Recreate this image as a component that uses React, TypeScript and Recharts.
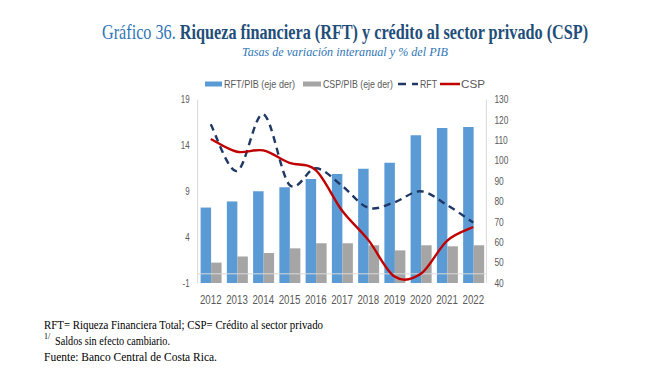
import React, { useLayoutEffect, useRef, useState } from 'react';
import { ComposedChart, Bar, Line, XAxis, YAxis, ReferenceLine } from 'recharts';

const years = ['2012', '2013', '2014', '2015', '2016', '2017', '2018', '2019', '2020', '2021', '2022'];
const rftPib = [77, 80, 85, 87, 91, 93.5, 96, 99, 112.5, 116, 116.5];
const cspPib = [50, 53, 54.7, 57, 59.5, 59.5, 58.5, 56, 58.5, 58, 58.5];
const rft = [16.3, 11.2, 17.4, 9.7, 11.5, 9.6, 7.2, 7.8, 9.0, 7.5, 5.6];
const csp = [14.7, 13.3, 13.45, 12.1, 11.3, 6.9, 3.7, -0.3, 0.0, 3.6, 5.1];
const leftTicks = [-1, 4, 9, 14, 19];
const rightTicks = [40, 50, 60, 70, 80, 90, 100, 110, 120, 130];

const data = years.map((y, i) => ({
  year: y,
  rftPib: rftPib[i],
  cspPib: cspPib[i],
  rft: rft[i],
  csp: csp[i],
}));

// suavizado tipo Excel (Catmull-Rom)
const smoothCurve = (context: any) => {
  let pts: number[][] = [];
  return {
    areaStart() {},
    areaEnd() {},
    lineStart() {
      pts = [];
    },
    point(x: number, y: number) {
      pts.push([+x, +y]);
    },
    lineEnd() {
      const n = pts.length;
      if (!n) return;
      context.moveTo(pts[0][0], pts[0][1]);
      for (let i = 0; i < n - 1; i++) {
        const p0 = pts[i > 0 ? i - 1 : i];
        const p1 = pts[i];
        const p2 = pts[i + 1];
        const p3 = pts[i + 2 < n ? i + 2 : i + 1];
        context.bezierCurveTo(
          p1[0] + (p2[0] - p0[0]) / 6,
          p1[1] + (p2[1] - p0[1]) / 6,
          p2[0] - (p3[0] - p1[0]) / 6,
          p2[1] - (p3[1] - p1[1]) / 6,
          p2[0],
          p2[1]
        );
      }
    },
  };
};

const SANS = 'Liberation Sans, Arial, sans-serif';
const SERIF = 'Liberation Serif, Times New Roman, serif';
const TICK = '#595959';

const XTick = (props: any) => {
  const { x, y, payload } = props;
  return (
    <g transform={`translate(${x},${y + 13}) scale(0.72,1)`}>
      <text textAnchor="middle" fontFamily={SANS} fontSize={13.5} fill={TICK}>
        {payload.value}
      </text>
    </g>
  );
};

const LeftTick = (props: any) => {
  const { x, y, payload } = props;
  return (
    <g transform={`translate(${x},${y}) scale(0.76,1)`}>
      <text textAnchor="end" dy="0.36em" fontFamily={SANS} fontSize={10.5} fill={TICK}>
        {payload.value}
      </text>
    </g>
  );
};

const RightTick = (props: any) => {
  const { x, y, payload } = props;
  return (
    <g transform={`translate(${x},${y}) scale(0.8,1)`}>
      <text textAnchor="start" dy="0.36em" fontFamily={SANS} fontSize={10.5} fill={TICK}>
        {payload.value}
      </text>
    </g>
  );
};

// título comprimido a un ancho fijo (escala medida en el navegador)
function Title({ x, y, width }: { x: number; y: number; width: number }) {
  const ref = useRef<SVGTextElement>(null);
  const [sx, setSx] = useState(0.75);
  useLayoutEffect(() => {
    if (ref.current) {
      const w = ref.current.getComputedTextLength();
      if (w > 0) setSx(width / w);
    }
  }, [width]);
  return (
    <g transform={`translate(${x},${y}) scale(${sx},1)`}>
      <text ref={ref} x={0} y={0} fontFamily={SERIF} fontSize={20}>
        <tspan fill="#2E75B6">Gráfico 36. </tspan>
        <tspan fill="#1F4E79" fontWeight="bold">
          Riqueza financiera (RFT) y crédito al sector privado (CSP)
        </tspan>
      </text>
    </g>
  );
}

export default function App() {
  return (
    <div style={{ position: 'absolute', left: 0, top: 0, width: 658, height: 371, background: '#fff' }}>
      <ComposedChart
        width={658}
        height={371}
        data={data}
        margin={{ top: 99.5, right: 131.6, left: 157.6, bottom: 58 }}
        barGap={0}
      >
        <XAxis dataKey="year" axisLine={false} tickLine={false} tick={<XTick />} interval={0} height={30} />
        <YAxis
          yAxisId="left"
          domain={[-1, 19]}
          ticks={leftTicks}
          interval={0}
          width={40}
          axisLine={{ stroke: '#D9D9D9' }}
          tickLine={false}
          tick={<LeftTick />}
        />
        <YAxis
          yAxisId="right"
          orientation="right"
          domain={[40, 130]}
          ticks={rightTicks}
          interval={0}
          width={40}
          axisLine={{ stroke: '#D9D9D9' }}
          tickLine={false}
          tick={<RightTick />}
        />
        <Bar yAxisId="right" dataKey="rftPib" fill="#5B9BD5" barSize={10.5} isAnimationActive={false} />
        <Bar yAxisId="right" dataKey="cspPib" fill="#A5A5A5" barSize={10.5} isAnimationActive={false} />
        <ReferenceLine yAxisId="left" y={0} stroke="#D9D9D9" strokeWidth={1} />
        <Line
          yAxisId="left"
          dataKey="rft"
          type={smoothCurve as any}
          stroke="#1F3864"
          strokeWidth={2.4}
          strokeDasharray="7 5"
          dot={false}
          activeDot={false}
          isAnimationActive={false}
        />
        <Line
          yAxisId="left"
          dataKey="csp"
          type={smoothCurve as any}
          stroke="#C00000"
          strokeWidth={2.4}
          dot={false}
          activeDot={false}
          isAnimationActive={false}
        />
      </ComposedChart>

      <svg
        width={658}
        height={371}
        style={{ position: 'absolute', left: 0, top: 0, pointerEvents: 'none' }}
      >
        <Title x={102} y={38.5} width={486} />
        <text
          x={242}
          y={55.5}
          fontFamily={SERIF}
          fontSize={13.5}
          fontStyle="italic"
          fill="#2E75B6"
          textLength={206}
          lengthAdjust="spacingAndGlyphs"
        >
          Tasas de variación interanual y % del PIB
        </text>

        {/* leyenda */}
        <rect x={205} y={81.5} width={17} height={5} fill="#5B9BD5" />
        <text x={224} y={88} fontFamily={SANS} fontSize={11.5} fill={TICK} textLength={71} lengthAdjust="spacingAndGlyphs">
          RFT/PIB (eje der)
        </text>
        <rect x={303} y={81.5} width={18} height={5} fill="#A5A5A5" />
        <text x={323} y={88} fontFamily={SANS} fontSize={11.5} fill={TICK} textLength={70} lengthAdjust="spacingAndGlyphs">
          CSP/PIB (eje der)
        </text>
        <line x1={398} y1={84} x2={406} y2={84} stroke="#1F3864" strokeWidth={2.5} />
        <line x1={412} y1={84} x2={418} y2={84} stroke="#1F3864" strokeWidth={2.5} />
        <text x={420} y={88} fontFamily={SANS} fontSize={11.5} fill={TICK} textLength={17} lengthAdjust="spacingAndGlyphs">
          RFT
        </text>
        <line x1={440} y1={84} x2={460} y2={84} stroke="#C00000" strokeWidth={2.5} />
        <text x={461} y={88} fontFamily={SANS} fontSize={11.5} fill={TICK} textLength={24} lengthAdjust="spacingAndGlyphs">
          CSP
        </text>

        {/* notas */}
        <text x={44} y={329} fontFamily={SERIF} fontSize={13} fill="#000" textLength={279} lengthAdjust="spacingAndGlyphs">
          RFT= Riqueza Financiera Total; CSP= Crédito al sector privado
        </text>
        <text x={44} y={339} fontFamily={SERIF} fontSize={8} fill="#000">
          1/
        </text>
        <text x={55} y={345} fontFamily={SERIF} fontSize={13} fill="#000" textLength={115} lengthAdjust="spacingAndGlyphs">
          Saldos sin efecto cambiario.
        </text>
        <text x={44} y={361} fontFamily={SERIF} fontSize={13} fill="#000" textLength={173} lengthAdjust="spacingAndGlyphs">
          Fuente: Banco Central de Costa Rica.
        </text>
      </svg>
    </div>
  );
}
